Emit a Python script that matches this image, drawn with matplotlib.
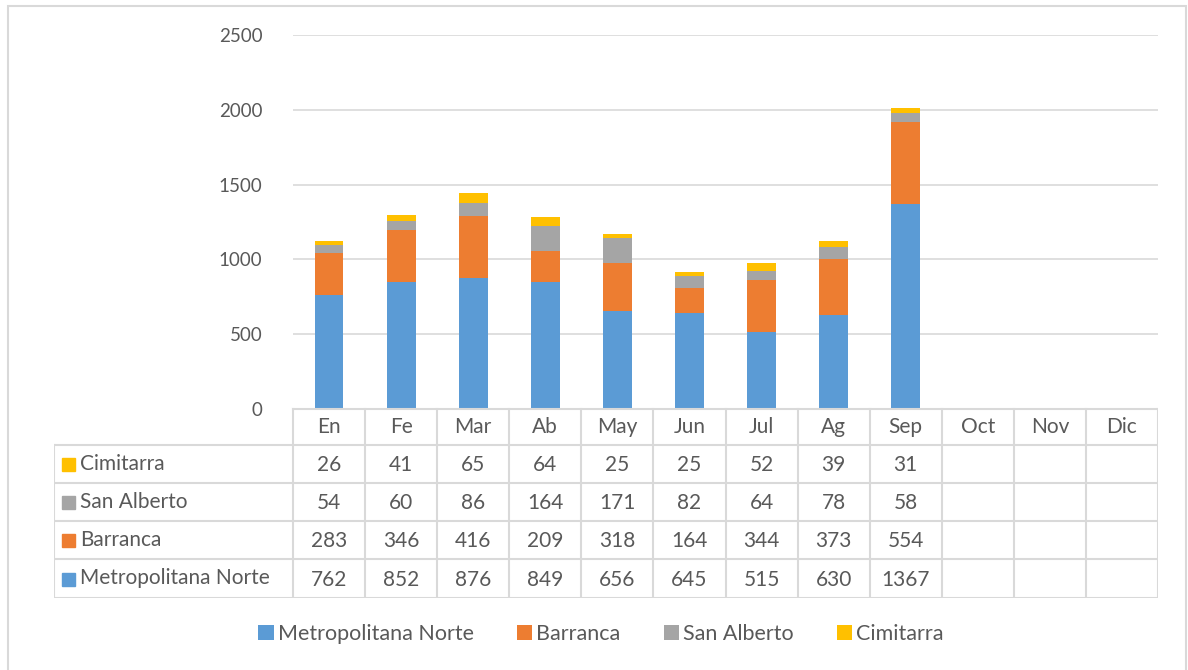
import matplotlib.pyplot as plt
from matplotlib.patches import Rectangle

months = ["En", "Fe", "Mar", "Ab", "May", "Jun", "Jul", "Ag", "Sep", "Oct", "Nov", "Dic"]
series_names = ["Metropolitana Norte", "Barranca", "San Alberto", "Cimitarra"]
metropolitana = [762, 852, 876, 849, 656, 645, 515, 630, 1367]
barranca = [283, 346, 416, 209, 318, 164, 344, 373, 554]
san_alberto = [54, 60, 86, 164, 171, 82, 64, 78, 58]
cimitarra = [26, 41, 65, 64, 25, 25, 52, 39, 31]
colors = ["#5B9BD5", "#ED7D31", "#A5A5A5", "#FFC000"]
y_ticks = [0, 500, 1000, 1500, 2000, 2500]

TXT = "#595959"
GRID = "#D9D9D9"
FONT = "Lato"
W, H = 1188, 670

plt.rcParams["font.family"] = [FONT, "DejaVu Sans"]

fig = plt.figure(figsize=(W / 100, H / 100), dpi=100)
# chart area border (bottom edge falls outside the picture, as in the original)
fig.patches.append(Rectangle((8 / W, -0.02), (1186 - 8) / W, 1.02 - 6 / H, transform=fig.transFigure,
                             fill=False, edgecolor=GRID, linewidth=1.5))

# plot area (pixel layout of the original)
px_l, px_r, px_top, px_bot = 293, 1158, 35, 409
ax = fig.add_axes([px_l / W, 1 - px_bot / H, (px_r - px_l) / W, (px_bot - px_top) / H])
x = list(range(len(metropolitana)))
bottom = [0] * len(x)
for name, vals, c in zip(series_names, [metropolitana, barranca, san_alberto, cimitarra], colors):
    ax.bar(x, vals, width=0.4, bottom=bottom, color=c, label=name, zorder=3)
    bottom = [b + v for b, v in zip(bottom, vals)]

ax.set_xlim(-0.5, len(months) - 0.5)
ax.set_ylim(0, 2500)
ax.set_yticks(y_ticks)
ax.set_yticklabels([str(t) for t in y_ticks], color=TXT, fontsize=13.5)
ax.tick_params(axis="y", length=0, pad=22)
ax.set_xticks([])
ax.grid(axis="y", color=GRID, linewidth=1.2, zorder=0)
for s in ax.spines.values():
    s.set_visible(False)

# data table below the axes
tab_l, tab_bot = 54, 598
row_edges = [409, 445, 483, 521, 559, 598]
col_w = (px_r - px_l) / len(months)
tab = fig.add_axes([tab_l / W, 1 - tab_bot / H, (px_r - tab_l) / W, (tab_bot - px_top) / H])
tab.set_xlim(tab_l, px_r)
tab.set_ylim(tab_bot, px_top)
tab.axis("off")

lc = dict(color=GRID, linewidth=1.5)
tab.plot([px_l, px_r], [row_edges[0]] * 2, **lc)
for yy in row_edges[1:]:
    tab.plot([tab_l, px_r], [yy, yy], **lc)
for i in range(len(months) + 1):
    xx = px_l + i * col_w
    tab.plot([xx, xx], [row_edges[0], row_edges[-1]], **lc)
tab.plot([tab_l, tab_l], [row_edges[1], row_edges[-1]], **lc)

for i, m in enumerate(months):
    cx = px_l + (i + 0.5) * col_w
    tab.text(cx, (row_edges[0] + row_edges[1]) / 2, m, ha="center", va="center",
             color=TXT, fontsize=15)

rows = list(zip(series_names, [metropolitana, barranca, san_alberto, cimitarra], colors))[::-1]
for r, (name, vals, c) in enumerate(rows):
    cy = (row_edges[r + 1] + row_edges[r + 2]) / 2
    tab.add_patch(Rectangle((tab_l + 8, cy - 6), 13, 13, color=c))
    tab.text(tab_l + 26, cy, name, ha="left", va="center", color=TXT, fontsize=15)
    for i, v in enumerate(vals):
        cx = px_l + (i + 0.5) * col_w
        tab.text(cx, cy + 1, str(v), ha="center", va="center", color=TXT, fontsize=15)

handles, labels = ax.get_legend_handles_labels()
fig.legend(handles, labels, loc="center", bbox_to_anchor=(601 / W, 1 - 634 / H), ncol=4,
           frameon=False, fontsize=15.5, labelcolor=TXT, handlelength=0.7, handleheight=0.7,
           handletextpad=0.2, columnspacing=2.0)

fig.savefig("out.png", dpi=100)
